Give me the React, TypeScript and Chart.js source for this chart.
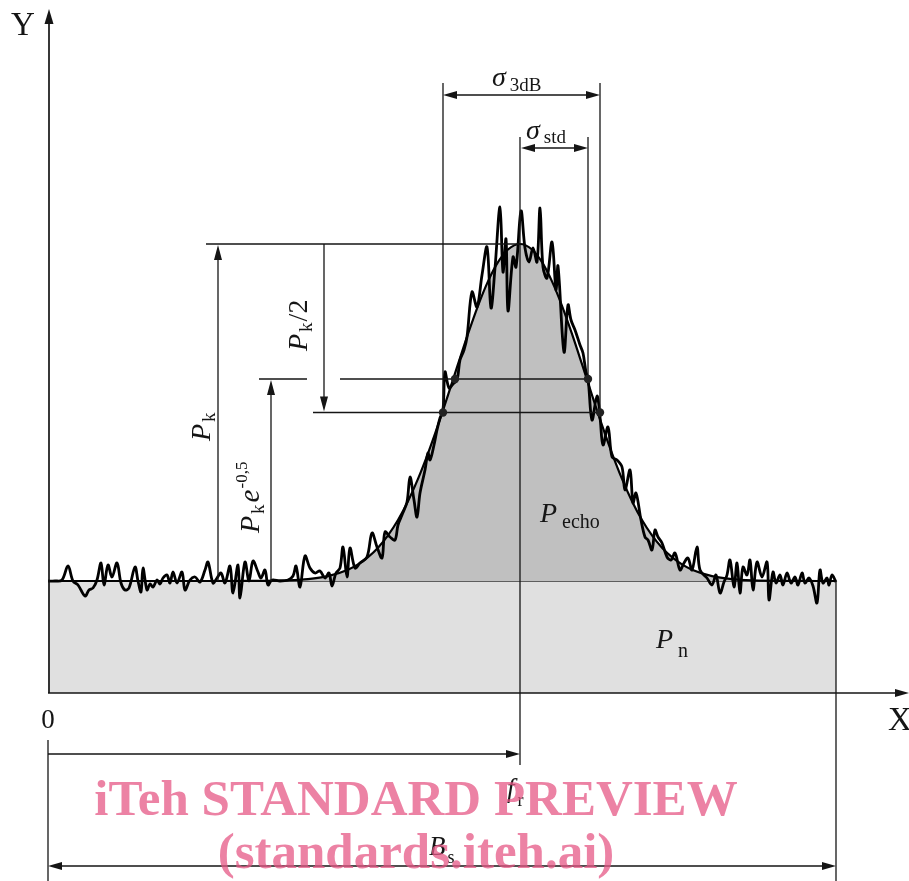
import React, { useEffect, useRef } from "react";
import { Chart, registerables } from "chart.js";

Chart.register(...registerables);

// ---- values (x: frequency units 0..860, y: power units 0..685) ----
const noiseFloor = 112;
const peakPower = 449;
const centerFreq = 472;
const bandEnd = 788;
const halfPowerFreqs = [395, 552]; // sigma 3dB edges
const stdFreqs = [407, 540]; // sigma std edges
const halfPowerLevel = 280.5; // Pk/2 level
const stdLevel = 314; // Pk e^-0.5 level

const fitFreq = [0, 150, 200, 240, 260, 280, 300, 310, 320, 330, 340, 350, 360, 370, 380, 390, 400, 410, 420, 430, 440, 450, 460, 472, 484, 494, 504, 514, 524, 534, 544, 554, 564, 574, 584, 594, 604, 614, 624, 634, 644, 664, 684, 704, 744, 788];
const fitPower = [112, 112, 112.1, 112.7, 113.9, 116.9, 123.3, 128.6, 135.8, 145.3, 157.6, 173, 191.8, 214.1, 239.6, 267.8, 297.9, 328.8, 359.1, 387.2, 411.6, 430.8, 443.5, 449, 443.5, 430.8, 411.6, 387.2, 359.1, 328.8, 297.9, 267.8, 239.6, 214.1, 191.8, 173, 157.6, 145.3, 135.8, 128.6, 123.3, 116.9, 113.9, 112.7, 112.1, 112];

const measured: [number, number][] = [
  [0, 112], [7, 112], [14, 113], [20, 127], [25, 112], [30, 108], [37, 97], [41, 103], [45, 105], [49, 113],
  [53, 130], [56, 108], [60, 128], [64, 116], [69, 130], [73, 110], [77, 103], [81, 105], [87, 126], [90, 112],
  [93, 101], [95, 125], [99, 103], [102, 109], [105, 106], [109, 113], [112, 109], [115, 115], [119, 118], [122, 110],
  [125, 121], [129, 110], [134, 121], [137, 103], [142, 113], [147, 116], [152, 111], [157, 123], [160, 131], [165, 110],
  [169, 115], [173, 120], [177, 110], [182, 127], [185, 100], [190, 128], [192, 95], [197, 131], [201, 112], [205, 132],
  [210, 121], [213, 115], [217, 123], [220, 108], [224, 113], [232, 112], [240, 113], [245, 117], [248, 127], [252, 106],
  [257, 137], [262, 125], [267, 120], [272, 122], [277, 115], [281, 120], [284, 107], [288, 120], [292, 125], [295, 146],
  [299, 116], [302, 145], [307, 125], [312, 130], [319, 136], [324, 160], [329, 146], [334, 135], [337, 161], [342, 156],
  [347, 153], [350, 168], [354, 178], [359, 191], [362, 216], [366, 193], [369, 176], [372, 200], [377, 223], [380, 240],
  [382, 233], [386, 248], [389, 263], [392, 275], [395, 283], [397, 321], [401, 305], [405, 309], [409, 313], [412, 333],
  [416, 343], [419, 356], [424, 401], [429, 386], [434, 418], [439, 446], [443, 385], [447, 425], [452, 486], [455, 421],
  [458, 454], [460, 382], [465, 436], [468, 426], [473, 482], [477, 445], [481, 431], [485, 445], [489, 431], [492, 485],
  [495, 426], [499, 415], [504, 451], [508, 403], [510, 427], [516, 341], [520, 388], [523, 373], [527, 363], [532, 348],
  [535, 340], [538, 321], [540, 315], [544, 273], [549, 297], [552, 276], [555, 248], [560, 266], [564, 236], [569, 233],
  [574, 226], [577, 203], [582, 223], [585, 190], [588, 200], [593, 173], [597, 156], [600, 153], [604, 143], [607, 163],
  [610, 156], [614, 150], [619, 136], [623, 133], [627, 140], [632, 123], [636, 130], [640, 135], [644, 123], [649, 146],
  [652, 123], [659, 115], [664, 108], [668, 118], [672, 100], [676, 111], [679, 118], [682, 133], [686, 106], [689, 130],
  [692, 100], [695, 126], [699, 118], [702, 133], [705, 103], [709, 131], [714, 116], [719, 131], [721, 93], [725, 121],
  [728, 110], [732, 118], [735, 108], [739, 120], [743, 110], [747, 116], [750, 108], [754, 120], [757, 110], [761, 115],
  [765, 107], [769, 90], [772, 123], [775, 110], [779, 115], [781, 108], [784, 118], [788, 111],
];

const INK = "#151515";
const SERIF = '"Liberation Serif", "Times New Roman", serif';

type Part = { t: string; font: string; dy?: number; gap?: number };

function seg(ctx: CanvasRenderingContext2D, x1: number, y1: number, x2: number, y2: number, w = 1.3) {
  ctx.beginPath();
  ctx.lineWidth = w;
  ctx.strokeStyle = INK;
  ctx.moveTo(x1, y1);
  ctx.lineTo(x2, y2);
  ctx.stroke();
}

function head(ctx: CanvasRenderingContext2D, tx: number, ty: number, dx: number, dy: number, len = 14, hw = 4) {
  ctx.beginPath();
  ctx.fillStyle = INK;
  ctx.moveTo(tx, ty);
  ctx.lineTo(tx - dx * len - dy * hw, ty - dy * len + dx * hw);
  ctx.lineTo(tx - dx * len + dy * hw, ty - dy * len - dx * hw);
  ctx.closePath();
  ctx.fill();
}

function rich(ctx: CanvasRenderingContext2D, parts: Part[], x: number, y: number, rotate = false) {
  ctx.save();
  ctx.translate(x, y);
  if (rotate) ctx.rotate(-Math.PI / 2);
  ctx.textAlign = "left";
  ctx.textBaseline = "alphabetic";
  ctx.fillStyle = INK;
  let cx = 0;
  for (const p of parts) {
    ctx.font = p.font;
    cx += p.gap || 0;
    ctx.fillText(p.t, cx, p.dy || 0);
    cx += ctx.measureText(p.t).width;
  }
  ctx.restore();
}

const annotate = {
  id: "annotate",
  afterDatasetsDraw(chart: any) {
    const ctx: CanvasRenderingContext2D = chart.ctx;
    const xs = chart.scales.x;
    const ys = chart.scales.y;
    const X = (v: number) => xs.getPixelForValue(v);
    const Y = (v: number) => ys.getPixelForValue(v);
    ctx.save();

    const cx = X(centerFreq);
    const floorY = Y(noiseFloor);
    const peakY = Y(peakPower);
    const hl = X(halfPowerFreqs[0]);
    const hr = X(halfPowerFreqs[1]);
    const sl = X(stdFreqs[0]);
    const sr = X(stdFreqs[1]);
    const halfY = Y(halfPowerLevel);
    const stdY = Y(stdLevel);
    const endX = X(bandEnd);
    const x0 = X(0);
    const axisY = Y(0);

    // axes
    seg(ctx, x0 + 1, axisY, x0 + 1, 22, 1.7);
    head(ctx, x0 + 1, 9, 0, -1, 15, 4.5);
    seg(ctx, x0, axisY, 898, axisY, 1.7);
    head(ctx, 909, axisY, 1, 0, 14, 4);

    // band edge & bottom dimension lines
    seg(ctx, endX, floorY, endX, 881, 1.3);
    seg(ctx, x0, 740, x0, 881, 1.3);
    seg(ctx, x0, 754, cx - 10, 754, 1.3);
    head(ctx, cx, 754, 1, 0, 14, 4);
    seg(ctx, x0 + 10, 866, endX - 10, 866, 1.3);
    head(ctx, x0, 866, -1, 0, 14, 4);
    head(ctx, endX, 866, 1, 0, 14, 4);

    // sigma 3dB
    seg(ctx, hl, 83, hl, halfY);
    seg(ctx, hr, 83, hr, halfY);
    seg(ctx, hl + 10, 95, hr - 10, 95);
    head(ctx, hl, 95, -1, 0, 14, 4);
    head(ctx, hr, 95, 1, 0, 14, 4);

    // sigma std + center line
    seg(ctx, cx, 137, cx, 765);
    seg(ctx, sr, 137, sr, stdY);
    seg(ctx, cx + 10, 148, sr - 10, 148);
    head(ctx, cx + 1, 148, -1, 0, 14, 4);
    head(ctx, sr, 148, 1, 0, 14, 4);

    // Pk
    seg(ctx, 206, peakY, cx, peakY);
    seg(ctx, 218, floorY, 218, peakY + 10);
    head(ctx, 218, peakY + 1, 0, -1, 15, 4);

    // Pk e^-0.5
    seg(ctx, 259, stdY, 307, stdY);
    seg(ctx, 340, stdY, sr, stdY);
    seg(ctx, 271, floorY, 271, stdY + 10);
    head(ctx, 271, stdY + 1, 0, -1, 15, 4);

    // Pk/2
    seg(ctx, 313, halfY, hr, halfY);
    seg(ctx, 324, peakY, 324, halfY - 10);
    head(ctx, 324, halfY - 1, 0, 1, 15, 4);

    // marker dots
    ctx.fillStyle = "#222";
    for (const [px, py] of [[hl, halfY], [sl, stdY], [sr, stdY], [hr, halfY]]) {
      ctx.beginPath();
      ctx.arc(px, py, 4.2, 0, Math.PI * 2);
      ctx.fill();
    }

    // labels
    const big = `33px ${SERIF}`;
    const it = (s: number) => `italic ${s}px ${SERIF}`;
    const rg = (s: number) => `${s}px ${SERIF}`;
    rich(ctx, [{ t: "Y", font: big }], 11, 35);
    rich(ctx, [{ t: "X", font: big }], 888, 730);
    ctx.font = rg(27);
    ctx.textAlign = "center";
    ctx.fillStyle = INK;
    ctx.fillText("0", x0, 728);

    rich(ctx, [{ t: "σ", font: it(28) }, { t: "3dB", font: rg(19), gap: 4, dy: 5 }], 492, 86);
    rich(ctx, [{ t: "σ", font: it(28) }, { t: "std", font: rg(19), gap: 4, dy: 4 }], 526, 139);
    rich(ctx, [{ t: "P", font: it(28) }, { t: "echo", font: rg(20), gap: 5, dy: 6 }], 540, 522);
    rich(ctx, [{ t: "P", font: it(28) }, { t: "n", font: rg(20), gap: 5, dy: 9 }], 656, 648);
    rich(ctx, [{ t: "f", font: it(27) }, { t: "r", font: rg(18), gap: 3, dy: 9 }], 507, 797);
    rich(ctx, [{ t: "B", font: it(27) }, { t: "s", font: rg(18), gap: 2, dy: 8 }], 429, 855);

    rich(ctx, [{ t: "P", font: it(28) }, { t: "k", font: rg(19), gap: 2, dy: 5 }], 210, 441, true);
    rich(ctx, [
      { t: "P", font: it(28) },
      { t: "k", font: rg(19), gap: 2, dy: 5 },
      { t: "e", font: it(29), gap: 2 },
      { t: "-0,5", font: rg(17), gap: 1, dy: -12 },
    ], 259, 533, true);
    rich(ctx, [{ t: "P", font: it(28) }, { t: "k", font: rg(19), gap: 2, dy: 5 }, { t: "/2", font: rg(28), gap: 1 }], 307, 351, true);

    // watermark
    ctx.textAlign = "center";
    ctx.fillStyle = "rgba(229, 88, 134, 0.75)";
    ctx.font = `bold 51px ${SERIF}`;
    ctx.fillText("iTeh STANDARD PREVIEW", 416, 815);
    ctx.fillText("(standards.iteh.ai)", 416, 868);

    ctx.restore();
  },
};

export default function App() {
  const ref = useRef<HTMLCanvasElement | null>(null);
  useEffect(() => {
    document.body.style.margin = "0";
    const canvas = ref.current;
    if (!canvas) return;
    const chart = new Chart(canvas, {
      type: "line",
      data: {
        datasets: [
          {
            label: "measured spectrum",
            data: measured.map(([x, y]) => ({ x, y })),
            borderColor: "#000",
            borderWidth: 2.8,
            pointRadius: 0,
            tension: 0.35,
            fill: false,
            order: 1,
          },
          {
            label: "gaussian fit",
            data: fitFreq.map((x, i) => ({ x, y: fitPower[i] })),
            borderColor: "#000",
            borderWidth: 2.2,
            pointRadius: 0,
            cubicInterpolationMode: "monotone",
            fill: { value: noiseFloor },
            backgroundColor: "#c0c0c0",
            order: 2,
          },
          {
            label: "noise floor",
            data: [
              { x: 0, y: noiseFloor },
              { x: bandEnd, y: noiseFloor },
            ],
            borderColor: "#333",
            borderWidth: 1.3,
            pointRadius: 0,
            fill: "origin",
            backgroundColor: "#e0e0e0",
            order: 3,
          },
        ] as any,
      },
      options: {
        animation: false,
        responsive: false,
        maintainAspectRatio: false,
        events: [],
        layout: { padding: { left: 48, right: 1, top: 8, bottom: 188 } },
        scales: {
          x: { type: "linear", min: 0, max: 860, display: false },
          y: { type: "linear", min: 0, max: 685, display: false },
        },
        plugins: { legend: { display: false }, tooltip: { enabled: false } },
      },
      plugins: [annotate],
    });
    return () => chart.destroy();
  }, []);
  return (
    <div style={{ width: 909, height: 881, position: "relative" }}>
      <canvas ref={ref} width={909} height={881} style={{ display: "block", width: 909, height: 881 }} />
    </div>
  );
}
